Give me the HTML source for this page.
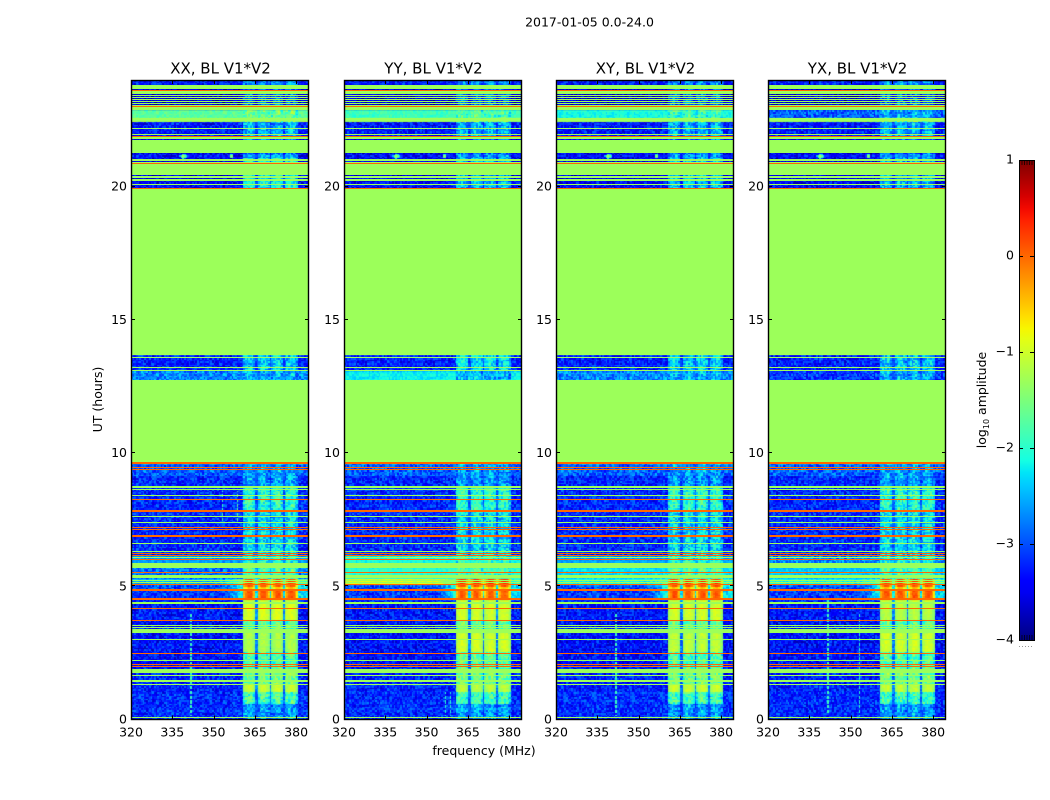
<!DOCTYPE html>
<html lang="en">
<head>
<meta charset="utf-8">
<title>2017-01-05 0.0-24.0</title>
<style>
html,body{margin:0;padding:0;background:#fff;}
#figure{position:relative;width:1050px;height:800px;overflow:hidden;background:#fff;}
#figure canvas{position:absolute;display:block;}
#overlay{position:absolute;left:0;top:0;}
text{font-family:"DejaVu Sans","Liberation Sans",sans-serif;font-size:12.5px;fill:#000;}
</style>
</head>
<body>
<div id="figure">
<svg id="overlay" width="1050" height="800" viewBox="0 0 1050 800" xmlns="http://www.w3.org/2000/svg">
  <defs><linearGradient id="jetGradient" x1="0" y1="1" x2="0" y2="0"></linearGradient></defs>
  <text x="589.5" y="26.5" text-anchor="middle">2017-01-05 0.0-24.0</text>
  <text x="484" y="755" text-anchor="middle">frequency (MHz)</text>
  <text x="0" y="0" transform="translate(102,399.5) rotate(-90)" text-anchor="middle">UT (hours)</text>
  <text x="0" y="0" transform="translate(986,400) rotate(-90)" text-anchor="middle">log<tspan style="font-size:8px" dy="3">10</tspan><tspan dy="-3"> amplitude</tspan></text>
</svg>
</div>
<script>
// ---- chart data ----
const polarizations = ['XX', 'YY', 'XY', 'YX'];
const panelTitles = ['XX, BL V1*V2', 'YY, BL V1*V2', 'XY, BL V1*V2', 'YX, BL V1*V2'];
const freqTicks = [320, 335, 350, 365, 380];
const utTicks = [0, 5, 10, 15, 20];
const colorbarTicks = [1, 0, -1, -2, -3, -4];

// Frequency blocks (MHz) holding the strong signal
const signalBlocks = [[360.7, 365.1], [366.0, 370.3], [371.2, 375.4], [376.0, 380.3]];

// Time segments in UT hours; each level array below has one value per segment
const segmentEdges = [0, 0.62, 1.03, 1.32, 1.93, 2.5, 3.25, 3.43, 3.73, 4.33, 4.48, 4.85, 4.97, 5.03, 5.27, 5.75, 6.1, 7.83, 8.68, 9.1, 9.59, 12.74, 13.05, 13.68, 19.94, 20.21, 21.04, 21.25, 21.77, 22.47, 22.57, 22.87, 23.82, 24];
const backgroundXX = [-3.2, -3.2, -3.25, -3.25, -3.35, -3.35, -3.2, -3.35, -3.3, -3.2, -3.1, -3.0, -3.0, -2.5, -2.8, -2.6, -3.2, -3.2, -3.2, -2.9, -1.3, -2.7, -3.25, -1.3, -3.4, -3.5, -3.35, -3.5, -3.3, -1.3, -1.7, -3.6, -3.3];
const backgroundYY = [-3.2, -3.2, -3.25, -3.25, -3.35, -3.35, -3.2, -3.35, -3.3, -3.2, -3.1, -3.0, -3.0, -0.95, -2.0, -2.1, -3.2, -3.2, -3.2, -2.9, -1.3, -2.2, -3.25, -1.3, -3.4, -3.5, -3.35, -3.5, -3.3, -1.3, -1.9, -3.6, -3.3];
const backgroundXY = [-3.2, -3.2, -3.25, -3.25, -3.35, -3.35, -3.2, -3.35, -3.3, -3.2, -3.1, -3.0, -3.0, -2.1, -2.3, -2.6, -3.2, -3.2, -3.2, -2.9, -1.3, -2.7, -3.25, -1.3, -3.4, -3.5, -3.35, -3.5, -3.3, -1.3, -2.1, -3.6, -3.3];
const backgroundYX = [-3.2, -3.2, -3.25, -3.25, -3.35, -3.35, -3.2, -3.35, -3.3, -3.2, -3.1, -3.0, -3.0, -2.1, -2.4, -2.7, -3.2, -3.2, -3.2, -2.9, -1.3, -3.1, -3.25, -1.3, -3.4, -3.5, -3.35, -3.5, -3.3, -1.3, -2.9, -3.6, -3.3];
const signalXX = [-2.5, -1.75, -1.0, -1.5, -1.7, -1.15, -1.6, -1.6, -0.9, -1.0, 0.15, -0.45, 0.1, 0.15, -1.7, -2.0, -2.2, -1.9, -2.5, -2.5, -1.3, -2.4, -2.3, -1.3, -2.0, -2.0, -2.5, -2.8, -2.4, -1.3, -1.5, -2.8, -2.6];
const signalYY = [-2.5, -1.8, -1.1, -1.5, -1.6, -0.95, -1.6, -1.6, -0.95, -1.0, 0.1, -0.4, 0.15, 0.25, -1.7, -1.9, -2.2, -1.9, -2.5, -2.5, -1.3, -2.4, -2.2, -1.3, -2.4, -2.4, -2.5, -2.8, -2.4, -1.3, -1.7, -2.8, -2.6];
const signalXY = [-2.5, -1.8, -1.0, -1.5, -1.7, -1.05, -1.6, -1.6, -0.95, -1.0, 0.15, -0.4, 0.15, 0.2, -1.7, -2.0, -2.2, -1.9, -2.5, -2.5, -1.3, -2.4, -2.3, -1.3, -2.3, -2.3, -2.5, -2.8, -2.4, -1.3, -1.8, -2.8, -2.6];
const signalYX = [-2.5, -1.8, -1.05, -1.5, -1.7, -0.95, -1.6, -1.6, -1.1, -1.0, 0.15, -0.4, 0.15, 0.2, -1.7, -2.0, -2.2, -1.9, -2.5, -2.5, -1.3, -2.4, -2.3, -1.3, -2.4, -2.4, -2.5, -2.8, -2.4, -1.3, -2.4, -2.8, -2.6];
// Level the signal leaks to just below and above the blocks (null = no leakage)
const leakLevels = [null, null, null, null, null, null, null, null, null, null, -2.0, -2.0, -2.0, -1.6, null, null, null, null, null, null, null, null, null, null, null, null, null, null, null, null, null, null, null];
const backgroundByPol = [backgroundXX, backgroundYY, backgroundXY, backgroundYX];
const signalByPol = [signalXX, signalYY, signalXY, signalYX];

// Fully flagged (constant level) time ranges, UT hours
const flaggedLevel = -1.3;
const interferenceLevel = 0;
const flagBands = [[23.66, 23.81], [23.47, 23.58], [23.40, 23.43], [23.32, 23.36], [23.25, 23.28], [23.17, 23.21], [23.10, 23.13], [23.02, 23.06], [22.87, 22.98], [22.47, 22.57], [21.79, 21.89], [21.27, 21.75], [20.96, 21.04], [20.43, 20.92], [20.32, 20.38], [20.21, 20.28], [13.68, 19.94], [9.66, 12.74], [8.70, 8.75], [5.70, 5.88], [5.30, 5.42], [4.33, 4.40], [3.23, 3.38], [1.74, 1.91], [1.40, 1.47]];
const flagLines = [22.19, 21.95, 20.08, 13.59, 13.21, 13.11, 8.62, 8.40, 7.62, 7.38, 6.59, 6.30, 6.09, 5.20, 5.13, 3.52, 3.44, 3.01, 2.22, 1.66, 1.32, 0.09];
const interferenceLines = [23.62, 23.01, 21.87, 20.87, 19.92, 9.45, 9.37, 7.20, 7.12, 6.22, 6.15, 6.01, 5.52, 5.08, 2.48, 2.05, 1.99];
const interferenceBands = [[9.59, 9.66], [8.23, 8.29], [7.80, 7.86], [6.85, 6.91], [4.82, 4.88], [4.49, 4.55], [4.14, 4.20], [3.69, 3.75]];

// Narrow-band verticals: polarization index, MHz, UT start, UT end, level
const rfiPol = [0, 0, 0, 0, 1, 1, 2, 3, 3];
const rfiFreq = [341.9, 353.5, 356.0, 358.8, 356.7, 358.6, 342.0, 342.0, 353.5];
const rfiStart = [0.1, 7.4, 7.4, 7.4, 0.1, 0.1, 0.1, 0.2, 0.1];
const rfiEnd = [4.0, 8.6, 8.6, 8.6, 1.0, 1.0, 4.0, 4.5, 4.0];
const rfiValue = [-1.9, -1.9, -1.9, -1.7, -2.0, -2.0, -1.9, -1.9, -2.0];

// Bright spots near 21 UT: MHz, UT, peak level, half width in MHz
const spotFreq = [339.0, 356.6];
const spotUt = [21.13, 21.13];
const spotPeak = [-0.9, -0.7];
const spotWidth = [1.6, 0.9];

// Hand-typed speckle lookup that gives the noise-floor its grain (level offsets)
const speckle = [-0.45, 0.12, 0.38, -0.2, 0.05, -0.55, 0.5, 0.22, -0.1, -0.35, 0.3, -0.05, 0.6, -0.28, 0.15, -0.5, 0.02, 0.42, -0.15, 0.26, -0.4, 0.55, -0.02, -0.32, 0.18, 0.34, -0.6, 0.08, -0.22, 0.46, -0.12, 0.28, -0.42, 0.1, 0.52, -0.3, -0.08, 0.2, -0.52, 0.36, 0.0];

// ---- layout and axis functions ----
const panelLeft = [131, 344, 556, 768];
const panelWidth = 177;
const plotTop = 80;
const plotBottom = 719.5;
const freqMin = 320;
const freqMax = 384.3;
const utMax = 24;
const channelMHz = 0.6;
const cellHours = 0.06;
const barLeft = 1019, barRight = 1034, barTop = 160, barBottom = 640;
const SVG_NS = 'http://www.w3.org/2000/svg';
const overlay = document.getElementById('overlay');
const figure = document.getElementById('figure');

function xScale(f) { return (f - freqMin) / (freqMax - freqMin) * panelWidth; }
function yScale(ut) { return plotBottom - ut / utMax * (plotBottom - plotTop); }
function barScale(v) { return barBottom - (v + 4) / 5 * (barBottom - barTop); }

function ramp(n, pts) {
  if (n <= pts[0][0]) return pts[0][1];
  for (let k = 1; k < pts.length; k++) {
    if (n <= pts[k][0]) {
      const a = pts[k - 1], b = pts[k];
      return a[1] + (b[1] - a[1]) * (n - a[0]) / (b[0] - a[0]);
    }
  }
  return pts[pts.length - 1][1];
}
function jetChannels(n) {
  return [
    ramp(n, [[0.35, 0], [0.66, 1], [0.89, 1], [1, 0.5]]),
    ramp(n, [[0.125, 0], [0.375, 1], [0.64, 1], [0.91, 0]]),
    ramp(n, [[0, 0.5], [0.11, 1], [0.34, 1], [0.65, 0]])
  ];
}
function jet(level) {
  const n = Math.max(0, Math.min(1, (level + 4) / 5));
  const c = jetChannels(n);
  return 'rgb(' + Math.round(c[0] * 255) + ',' + Math.round(c[1] * 255) + ',' + Math.round(c[2] * 255) + ')';
}
function make(tag, attrs, text) {
  const el = document.createElementNS(SVG_NS, tag);
  for (const key in attrs) el.setAttribute(key, attrs[key]);
  if (text !== undefined) el.textContent = text;
  return el;
}
function segmentIndex(ut) {
  for (let s = 0; s < segmentEdges.length - 1; s++) {
    if (ut < segmentEdges[s + 1]) return s;
  }
  return segmentEdges.length - 2;
}
function blockAt(f) {
  for (let b = 0; b < signalBlocks.length; b++) {
    if (f >= signalBlocks[b][0] && f <= signalBlocks[b][1]) return b;
  }
  return -1;
}
function cellLevel(p, i, j, f, ut) {
  const s = segmentIndex(ut);
  const bg = backgroundByPol[p][s];
  const sig = signalByPol[p][s];
  const idx = (i * i * 3 + j * j * 7 + i * j + p * 11 + i * 5 + j * 2) % speckle.length;
  const grain = speckle[idx];
  const bgAmp = bg > -2.65 ? 0.35 : 0.75;
  let level;
  const inRange = f >= signalBlocks[0][0] && f <= signalBlocks[3][1];
  if (inRange) {
    const b = blockAt(f);
    if (b >= 0) {
      const mid = (signalBlocks[b][0] + signalBlocks[b][1]) / 2;
      const half = (signalBlocks[b][1] - signalBlocks[b][0]) / 2;
      const edge = Math.abs(f - mid) / half;
      const amp = sig > -1.3 ? 0.2 : 0.8;
      const drop = sig > -0.5 ? 0.8 : 0.35;
      level = sig - drop * edge * edge + grain * amp;
    } else {
      level = bg + 0.25 * (sig - bg) + grain * 0.5;
    }
  } else {
    level = bg + grain * bgAmp;
    const leak = leakLevels[s];
    if (leak !== null) {
      if (f < signalBlocks[0][0] && f > 351) {
        level = bg + (leak - bg) * Math.pow((f - 351) / 9.7, 2) + grain * 0.6;
      } else if (f > signalBlocks[3][1]) {
        level = leak - 0.3 + grain * 0.6;
      }
    }
  }
  for (let r = 0; r < rfiFreq.length; r++) {
    if (rfiPol[r] === p && Math.abs(f - rfiFreq[r]) < channelMHz / 2 && ut >= rfiStart[r] && ut <= rfiEnd[r] && j % 3 !== 0) {
      level = rfiValue[r];
    }
  }
  if (ut > 20.96 && ut < 21.3) {
    for (let q = 0; q < spotFreq.length; q++) {
      const dx = Math.abs(f - spotFreq[q]) / spotWidth[q];
      const dy = Math.abs(ut - spotUt[q]) / 0.14;
      if (dx + dy < 1) level = Math.max(level, spotPeak[q] - (dx + dy) * 1.6);
    }
  }
  return level;
}

function drawCells(p) {
  const canvas = document.createElement('canvas');
  
  
  canvas.width = panelWidth;
  canvas.height = Math.ceil(plotBottom - plotTop);
  canvas.style.left = panelLeft[p] + 'px';
  canvas.style.top = plotTop + 'px';
  figure.insertBefore(canvas, overlay);
  const ctx = canvas.getContext('2d');
  const nCols = Math.ceil((freqMax - freqMin) / channelMHz);
  const nRows = Math.ceil(utMax / cellHours);
  for (let i = 0; i < nCols; i++) {
    const f0 = freqMin + i * channelMHz;
    const x0 = Math.round(xScale(f0));
    const x1 = Math.round(xScale(f0 + channelMHz));
    for (let j = 0; j < nRows; j++) {
      const t0 = j * cellHours;
      const y0 = Math.round(yScale(t0 + cellHours) - plotTop);
      const y1 = Math.round(yScale(t0) - plotTop);
      ctx.fillStyle = jet(cellLevel(p, i, j, f0 + channelMHz / 2, t0 + cellHours / 2));
      ctx.fillRect(x0, y0, x1 - x0, y1 - y0);
    }
  }
}

function drawBand(group, left, ut0, ut1, level, name) {
  const top = Math.round(yScale(ut1));
  const height = Math.max(1, Math.round(yScale(ut0)) - top);
  const rect = make('rect', { x: left, y: top, width: panelWidth, height: height, fill: jet(level), 'shape-rendering': 'crispEdges' });
  
  
  group.appendChild(rect);
}

function drawLine(group, left, ut, level, name) {
  const rect = make('rect', { x: left, y: Math.round(yScale(ut) - 0.5), width: panelWidth, height: 1, fill: jet(level), 'shape-rendering': 'crispEdges' });
  
  
  group.appendChild(rect);
}

function drawPanel(p) {
  const left = panelLeft[p];
  const right = left + panelWidth;
  const group = make('g', {});
  
  
  overlay.appendChild(group);

  flagBands.forEach(function (b) { drawBand(group, left, b[0], b[1], flaggedLevel, 'flagged-band'); });
  flagLines.forEach(function (u) { drawLine(group, left, u, flaggedLevel, 'flagged-line'); });
  interferenceBands.forEach(function (b) { drawBand(group, left, b[0], b[1], interferenceLevel, 'interference-band'); });
  interferenceLines.forEach(function (u) { drawLine(group, left, u, interferenceLevel, 'interference-line'); });

  const frame = make('rect', { x: left + 0.5, y: plotTop + 0.5, width: panelWidth, height: plotBottom - plotTop - 0.5, fill: 'none', stroke: '#000', 'stroke-width': 1.4 });
  
  
  group.appendChild(frame);

  const title = make('text', { x: left + panelWidth / 2 + 1, y: 73.5, 'text-anchor': 'middle', style: 'font-size:15px' }, panelTitles[p]);
  
  
  group.appendChild(title);

  freqTicks.forEach(function (f) {
    const x = Math.round(left + xScale(f)) + 0.5;
    const d = 'M' + x + ' ' + plotBottom + 'v-4M' + x + ' ' + plotTop + 'v4';
    const tick = make('path', { d: d, stroke: '#000', 'stroke-width': 1, fill: 'none' });
    
    
    group.appendChild(tick);
    const label = make('text', { x: left + xScale(f), y: 736.5, 'text-anchor': 'middle' }, String(f));
    
    
    group.appendChild(label);
  });

  utTicks.forEach(function (u) {
    const y = Math.round(yScale(u)) - 0.5;
    const d = 'M' + left + ' ' + y + 'h4M' + (right + 1) + ' ' + y + 'h-4';
    const tick = make('path', { d: d, stroke: '#000', 'stroke-width': 1, fill: 'none' });
    
    
    group.appendChild(tick);
    const label = make('text', { x: left - 4, y: yScale(u) + 4, 'text-anchor': 'end' }, String(u));
    
    
    group.appendChild(label);
  });
}

function drawColorbar() {
  const gradient = document.getElementById('jetGradient');
  for (let k = 0; k <= 40; k++) {
    const n = k / 40;
    const c = jetChannels(n);
    const stop = make('stop', { offset: n, 'stop-color': 'rgb(' + Math.round(c[0] * 255) + ',' + Math.round(c[1] * 255) + ',' + Math.round(c[2] * 255) + ')' });
    gradient.appendChild(stop);
  }
  const group = make('g', {});
  
  
  overlay.appendChild(group);

  const bar = make('rect', { x: barLeft + 0.5, y: barTop + 0.5, width: barRight - barLeft, height: barBottom - barTop, fill: 'url(#jetGradient)', stroke: '#000', 'stroke-width': 1 });
  
  
  group.appendChild(bar);

  colorbarTicks.forEach(function (v) {
    const y = Math.round(barScale(v)) + 0.5;
    const tick = make('path', { d: 'M' + barLeft + ' ' + y + 'h4M' + barRight + ' ' + y + 'h-4', stroke: '#000', 'stroke-width': 1 });
    
    
    group.appendChild(tick);
    const label = make('text', { x: barLeft - 5, y: barScale(v) + 3.5, 'text-anchor': 'end' }, String(v).replace('-', '\u2212'));
    
    
    group.appendChild(label);
  });

  for (let k = 1; k <= 5; k++) {
    const x = barLeft + k * 2.5 + 0.5;
    const marks = make('path', { d: 'M' + x + ' ' + barTop + 'v5M' + x + ' ' + barBottom + 'v-5', stroke: '#000', 'stroke-width': 0.7 });
    
    
    group.appendChild(marks);
    const dot = make('rect', { x: barLeft - 3 + k * 3, y: 646, width: 1, height: 1, fill: '#999' });
    
    
    group.appendChild(dot);
  }
}

polarizations.forEach(function (pol, p) {
  drawCells(p);
  drawPanel(p);
});
drawColorbar();
</script>
</body>
</html>
